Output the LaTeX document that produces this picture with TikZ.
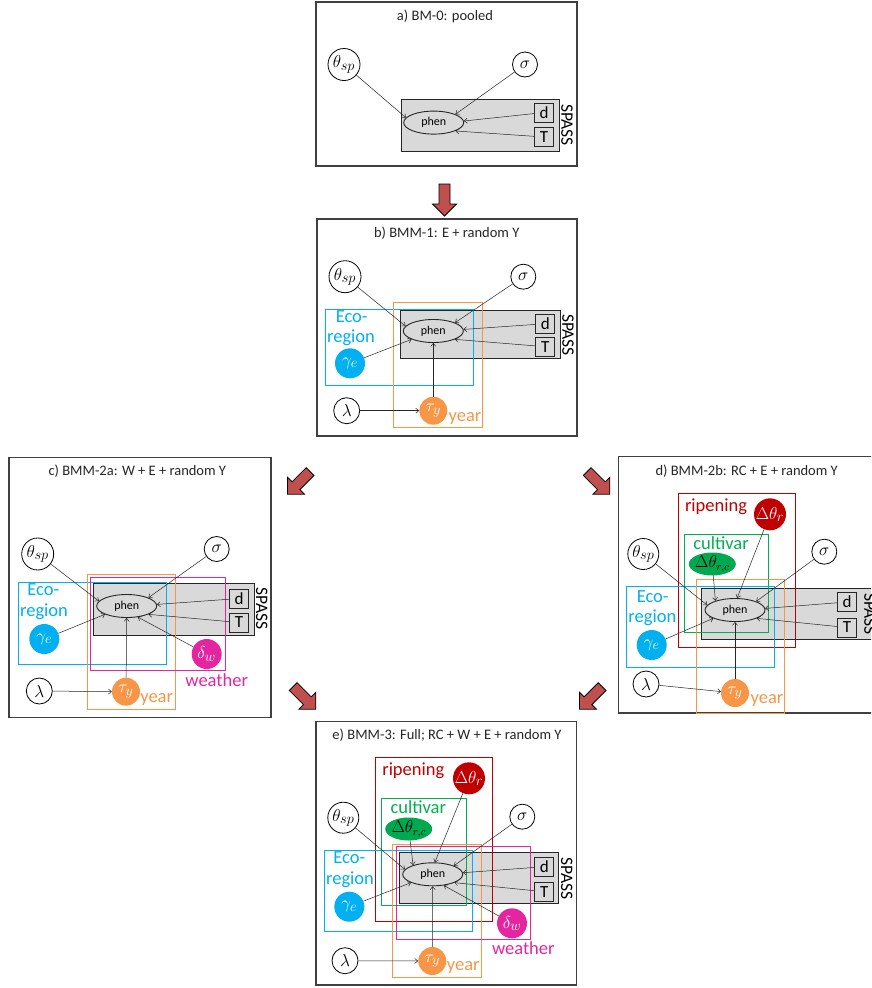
\documentclass[tikz,border=0pt]{standalone}
\usepackage{fontspec}
\setmainfont{Carlito}
\usetikzlibrary{arrows.meta,shapes.geometric}
\definecolor{eco}{HTML}{00B0F0}
\definecolor{yr}{HTML}{F79646}
\definecolor{wth}{HTML}{E4259F}
\definecolor{rip}{HTML}{C00000}
\definecolor{cul}{HTML}{00B050}
\definecolor{culf}{HTML}{00A84F}
\definecolor{plt}{HTML}{D9D9D9}
\definecolor{barr}{HTML}{C0504D}
\tikzset{
  panel/.style={draw=black!75, line width=1.1pt},
  plate/.style={draw=black!85, fill=plt, line width=0.9pt},
  grp/.style={line width=1pt},
  vnode/.style={circle, draw=black, line width=0.8pt, inner sep=0pt, fill=white, font=\fontsize{19}{19}\selectfont},
  fnode/.style={circle, inner sep=0pt, text=white, font=\fontsize{19}{19}\selectfont},
  obs/.style={draw=black!85, fill=plt, line width=0.9pt, minimum width=19pt, minimum height=19pt, inner sep=0pt, font=\fontsize{17}{17}\selectfont},
  phenn/.style={ellipse, draw=black!85, fill=plt, line width=0.9pt, minimum width=60pt, minimum height=23pt, inner sep=0pt, font=\fontsize{12}{12}\selectfont},
  spass/.style={rotate=-90, inner sep=0pt, font=\fontsize{17.5}{17.5}\selectfont},
  conn/.style={line width=0.5pt, draw=black!85, -{Straight Barb[length=3pt,width=5pt]}},
  ttl/.style={font=\fontsize{14.5}{15}\selectfont, text=black!85, inner sep=0pt},
  lbl/.style={font=\fontsize{18.5}{19}\selectfont, inner sep=0pt},
  cultn/.style={ellipse, fill=culf, minimum width=47pt, minimum height=23pt, inner sep=-4pt, outer sep=0pt, font=\fontsize{16}{16}\selectfont},
  bigarr/.style={fill=barr, draw=black, line width=0.8pt, line join=miter},
}
\newcommand\blockarrow[3]{\draw[bigarr, shift={(#1,#2)}, rotate=#3] (0,-5.5) -- (20,-5.5) -- (20,-12) -- (32,0) -- (20,12) -- (20,5.5) -- (0,5.5) -- cycle;}
\begin{document}
\begin{tikzpicture}[x=1pt,y=-1pt]
\useasboundingbox (0,0) rectangle (871,988);
\fill[white] (0,0) rectangle (871,988);
\begin{scope}
\clip (0,0) rectangle (871,988);

% ---------------- panel a ----------------
\draw[panel] (316,2) rectangle (577,166);
\node[ttl] (a-t) at (445,16) {a) BM-0: pooled};
\draw[plate] (401,99) rectangle (559.5,151);
\node[phenn] (a-phen) at (433.7,122.6) {phen};
\node[obs] (a-d) at (544,112.5) {d};
\node[obs] (a-T) at (544,137) {T};
\node[spass] (a-s) at (567,125) {SPASS};
\node[vnode, minimum size=32pt] (a-tsp) at (344,64.5) {$\theta_{sp}$};
\node[vnode, minimum size=25pt] (a-sig) at (525,64.5) {$\sigma$};
\draw[conn] (a-tsp) -- (a-phen.170);
\draw[conn] (a-sig) -- (a-phen.21);
\draw[conn] (a-d) -- (a-phen.3);
\draw[conn] (a-T) -- (a-phen.-21);

% ---------------- panel b ----------------
\draw[panel] (317,219) rectangle (577,436);
\node[ttl] (b-t) at (446.7,233) {b) BMM-1: E + random Y};
\draw[plate] (400,310) rectangle (560,358.7);
\draw[grp, eco] (325.7,309.3) rectangle (473.3,385);
\draw[grp, yr] (393.3,302.3) rectangle (482.3,427.7);
\node[phenn] (b-phen) at (433.3,331) {phen};
\node[obs] (b-d) at (545.3,323.7) {d};
\node[obs] (b-T) at (545.3,346.7) {T};
\node[spass] (b-s) at (568,335) {SPASS};
\node[vnode, minimum size=32pt] (b-tsp) at (345,276.7) {$\theta_{sp}$};
\node[vnode, minimum size=25pt] (b-sig) at (523.3,276.7) {$\sigma$};
\node[lbl, text=eco] (b-eco) at (351.7,316.7) {Eco-};
\node[lbl, text=eco] (b-reg) at (351,337.7) {region};
\node[fnode, fill=eco, minimum size=30pt] (b-ge) at (350,363.3) {$\gamma_e$};
\node[fnode, fill=yr, minimum size=28pt] (b-tau) at (433.3,410.7) {$\tau_y$};
\node[lbl, text=yr] (b-yr) at (465,418.3) {year};
\node[vnode, minimum size=26pt] (b-lam) at (346.7,410.7) {$\lambda$};
\draw[conn] (b-tsp) -- (b-phen.170);
\draw[conn] (b-sig) -- (b-phen.21);
\draw[conn] (b-d) -- (b-phen.3);
\draw[conn] (b-T) -- (b-phen.-21);
\draw[conn] (b-ge) -- (b-phen.-159);
\draw[conn] (b-tau) -- (b-phen.south);
\draw[conn] (b-lam) -- (b-tau);

% ---------------- panel c ----------------
\draw[panel] (9,457.7) rectangle (271,717.3);
\node[ttl] (c-t) at (137.3,471) {c) BMM-2a: W + E + random Y};
\draw[plate] (93.3,583.3) rectangle (254,635);
\draw[grp, eco] (18.3,582.3) rectangle (166.7,664);
\draw[grp, yr] (87.3,574.3) rectangle (175.7,709.3);
\draw[grp, wth] (90.7,577.3) rectangle (225.7,670.7);
\node[phenn] (c-phen) at (126.7,606) {phen};
\node[obs] (c-d) at (239,598.5) {d};
\node[obs] (c-T) at (239,622.5) {T};
\node[spass] (c-s) at (261.7,608.3) {SPASS};
\node[vnode, minimum size=32pt] (c-tsp) at (37.7,554) {$\theta_{sp}$};
\node[vnode, minimum size=25pt] (c-sig) at (216.7,549) {$\sigma$};
\node[lbl, text=eco] (c-eco) at (43.3,590) {Eco-};
\node[lbl, text=eco] (c-reg) at (44,611.7) {region};
\node[fnode, fill=eco, minimum size=30pt] (c-ge) at (44.3,639) {$\gamma_e$};
\node[fnode, fill=wth, minimum size=30pt] (c-dw) at (206.7,654) {$\delta_w$};
\node[lbl, text=wth] (c-wth) at (216.7,680) {weather};
\node[fnode, fill=yr, minimum size=28pt] (c-tau) at (126,691.7) {$\tau_y$};
\node[lbl, text=yr] (c-yr) at (156.7,699.3) {year};
\node[vnode, minimum size=26pt] (c-lam) at (39.3,691) {$\lambda$};
\draw[conn] (c-tsp) -- (c-phen.170);
\draw[conn] (c-sig) -- (c-phen.21);
\draw[conn] (c-d) -- (c-phen.3);
\draw[conn] (c-T) -- (c-phen.-21);
\draw[conn] (c-ge) -- (c-phen.-159);
\draw[conn] (c-tau) -- (c-phen.south);
\draw[conn] (c-dw) -- (c-phen.-45);
\draw[conn] (c-lam) -- (c-tau);

% ---------------- panel d ----------------
\draw[panel] (618.3,456.7) rectangle (900,713);
\node[ttl] (d-t) at (746.7,471) {d) BMM-2b: RC + E + random Y};
\draw[plate] (701.7,588.3) rectangle (890,639.3);
\draw[grp, rip] (678.3,493.3) rectangle (795,647.7);
\draw[grp, cul] (684,534.3) rectangle (768.3,632.3);
\draw[grp, eco] (626.7,586.7) rectangle (774.3,667.7);
\draw[grp, yr] (696,579.3) rectangle (784,713);
\node[lbl, text=rip] (d-rip) at (716,506.7) {ripening};
\node[fnode, fill=rip, minimum size=32pt] (d-dr) at (770,514.3) {$\Delta\theta_r$};
\node[lbl, text=cul] (d-cul) at (721,543.3) {cultivar};
\node[cultn] (d-drc) at (712.3,564) {$\Delta\theta_{r,c}$};
\node[phenn] (d-phen) at (735,610) {phen};
\node[obs] (d-d) at (847,602) {d};
\node[obs] (d-T) at (847,627.5) {T};
\node[spass] (d-s) at (870,614) {SPASS};
\node[vnode, minimum size=31pt] (d-tsp) at (643.3,554) {$\theta_{sp}$};
\node[vnode, minimum size=25pt] (d-sig) at (824.3,551.7) {$\sigma$};
\node[lbl, text=eco] (d-eco) at (652.7,596.7) {Eco-};
\node[lbl, text=eco] (d-reg) at (652.3,617.7) {region};
\node[fnode, fill=eco, minimum size=30pt] (d-ge) at (651.7,645) {$\gamma_e$};
\node[fnode, fill=yr, minimum size=28pt] (d-tau) at (735,693) {$\tau_y$};
\node[lbl, text=yr] (d-yr) at (767,700) {year};
\node[vnode, minimum size=26pt] (d-lam) at (646,684) {$\lambda$};
\draw[conn] (d-tsp) -- (d-phen.170);
\draw[conn] (d-sig) -- (d-phen.22);
\draw[conn] (d-d) -- (d-phen.3);
\draw[conn] (d-T) -- (d-phen.-21);
\draw[conn] (d-ge) -- (d-phen.-159);
\draw[conn] (d-tau) -- (d-phen.south);
\draw[conn] (d-dr) -- (d-phen.80);
\draw[conn] (d-drc) -- (d-phen.155);
\draw[conn] (d-lam) -- (d-tau);

% ---------------- panel e ----------------
\draw[panel] (316,721.7) rectangle (576.7,985);
\node[ttl] (e-t) at (447,735) {e) BMM-3: Full; RC + W + E + random Y};
\draw[plate] (399.3,852.3) rectangle (558.3,903.3);
\draw[grp, rip] (375.7,757) rectangle (492.7,921);
\draw[grp, cul] (381.3,798.3) rectangle (466,905.7);
\draw[grp, eco] (324,850.3) rectangle (472.3,931.7);
\draw[grp, yr] (392.3,844) rectangle (481.3,977.3);
\draw[grp, wth] (396.7,846.7) rectangle (530.7,939.3);
\node[lbl, text=rip] (e-rip) at (413.3,771) {ripening};
\node[fnode, fill=rip, minimum size=32pt] (e-dr) at (469,778.3) {$\Delta\theta_r$};
\node[lbl, text=cul] (e-cul) at (418.3,807.3) {cultivar};
\node[cultn] (e-drc) at (408.7,829) {$\Delta\theta_{r,c}$};
\node[phenn] (e-phen) at (432.7,874.3) {phen};
\node[obs] (e-d) at (544.3,866.7) {d};
\node[obs] (e-T) at (544.3,891.7) {T};
\node[spass] (e-s) at (566.7,878.3) {SPASS};
\node[vnode, minimum size=31pt] (e-tsp) at (343.3,817.7) {$\theta_{sp}$};
\node[vnode, minimum size=25pt] (e-sig) at (522.3,816.7) {$\sigma$};
\node[lbl, text=eco] (e-eco) at (349.3,857.7) {Eco-};
\node[lbl, text=eco] (e-reg) at (350,880) {region};
\node[fnode, fill=eco, minimum size=30pt] (e-ge) at (349.3,906.7) {$\gamma_e$};
\node[fnode, fill=wth, minimum size=30pt] (e-dw) at (512,923.3) {$\delta_w$};
\node[lbl, text=wth] (e-wth) at (523.3,947.7) {weather};
\node[fnode, fill=yr, minimum size=28pt] (e-tau) at (432.3,961) {$\tau_y$};
\node[lbl, text=yr] (e-yr) at (463.3,967.7) {year};
\node[vnode, minimum size=26pt] (e-lam) at (345,960.7) {$\lambda$};
\draw[conn] (e-tsp) -- (e-phen.170);
\draw[conn] (e-sig) -- (e-phen.22);
\draw[conn] (e-d) -- (e-phen.3);
\draw[conn] (e-T) -- (e-phen.-21);
\draw[conn] (e-ge) -- (e-phen.-159);
\draw[conn] (e-tau) -- (e-phen.south);
\draw[conn] (e-dw) -- (e-phen.-45);
\draw[conn] (e-dr) -- (e-phen.80);
\draw[conn] (e-drc) -- (e-phen.155);
\draw[conn] (e-lam) -- (e-tau);

% ---------------- block arrows ----------------
\blockarrow{444.5}{184}{-90}
\blockarrow{310.1}{471.6}{-135}
\blockarrow{587.2}{471.6}{-45}
\blockarrow{293.2}{686.6}{-45}
\blockarrow{602.1}{686.6}{-135}
\end{scope}
\end{tikzpicture}
\end{document}
